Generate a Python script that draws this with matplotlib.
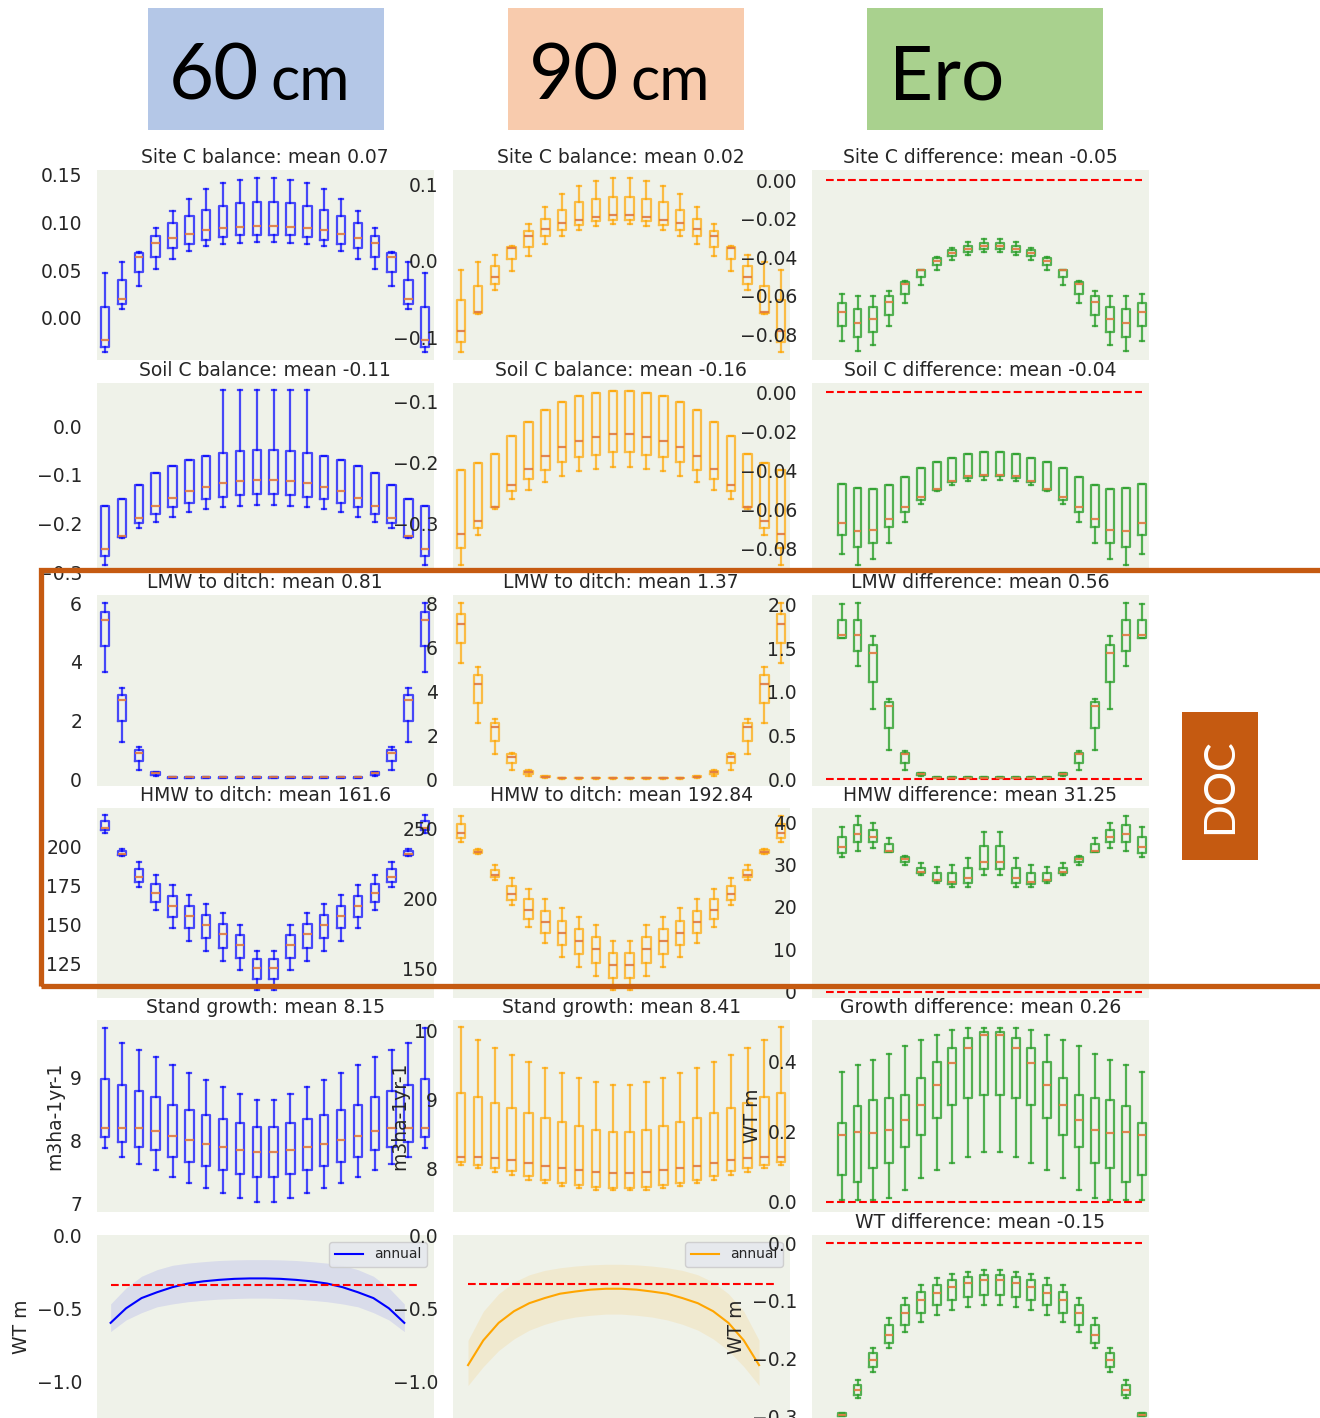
# plot.py - box-plot grid: 60 cm / 90 cm / Ero comparison
import matplotlib
matplotlib.use("Agg")
import matplotlib.pyplot as plt
from matplotlib.patches import Rectangle

# ---- data (20 positions per panel) ----
positions = list(range(1, 21))

# Site C balance, 60 cm
site60_hi = [0.047, 0.059, 0.069, 0.094, 0.112, 0.125, 0.135, 0.141, 0.145, 0.147, 0.147, 0.145, 0.141, 0.135, 0.125, 0.112, 0.094, 0.069, 0.059, 0.047]
site60_q3 = [0.012, 0.040, 0.068, 0.086, 0.099, 0.107, 0.113, 0.117, 0.120, 0.122, 0.122, 0.120, 0.117, 0.113, 0.107, 0.099, 0.086, 0.068, 0.040, 0.012]
site60_med = [-0.023, 0.020, 0.064, 0.079, 0.084, 0.088, 0.092, 0.094, 0.095, 0.096, 0.096, 0.095, 0.094, 0.092, 0.088, 0.084, 0.079, 0.064, 0.020, -0.023]
site60_q1 = [-0.030, 0.015, 0.048, 0.064, 0.073, 0.078, 0.082, 0.085, 0.087, 0.087, 0.087, 0.087, 0.085, 0.082, 0.078, 0.073, 0.064, 0.048, 0.015, -0.030]
site60_lo = [-0.036, 0.009, 0.034, 0.051, 0.062, 0.070, 0.075, 0.077, 0.079, 0.080, 0.080, 0.079, 0.077, 0.075, 0.070, 0.062, 0.051, 0.034, 0.009, -0.036]

# Site C balance, 90 cm
site90_hi = [-0.012, -0.002, 0.008, 0.019, 0.048, 0.071, 0.087, 0.098, 0.105, 0.109, 0.109, 0.105, 0.098, 0.087, 0.071, 0.048, 0.019, 0.008, -0.002, -0.012]
site90_q3 = [-0.052, -0.033, -0.007, 0.018, 0.039, 0.055, 0.067, 0.077, 0.081, 0.084, 0.084, 0.081, 0.077, 0.067, 0.055, 0.039, 0.018, -0.007, -0.033, -0.052]
site90_med = [-0.092, -0.067, -0.021, 0.017, 0.032, 0.042, 0.049, 0.054, 0.057, 0.060, 0.060, 0.057, 0.054, 0.049, 0.042, 0.032, 0.017, -0.021, -0.067, -0.092]
site90_q1 = [-0.106, -0.069, -0.031, 0.002, 0.018, 0.032, 0.041, 0.047, 0.052, 0.054, 0.054, 0.052, 0.047, 0.041, 0.032, 0.018, 0.002, -0.031, -0.069, -0.106]
site90_lo = [-0.119, -0.070, -0.038, -0.013, 0.006, 0.022, 0.033, 0.041, 0.046, 0.048, 0.048, 0.046, 0.041, 0.033, 0.022, 0.006, -0.013, -0.038, -0.070, -0.119]

# Site C difference
sitediff_hi = [-0.059, -0.060, -0.060, -0.0575, -0.0525, -0.0466, -0.0402, -0.0352, -0.0322, -0.0305, -0.0305, -0.0322, -0.0352, -0.0402, -0.0466, -0.0525, -0.0575, -0.060, -0.060, -0.059]
sitediff_q3 = [-0.0637, -0.0672, -0.0658, -0.0603, -0.0532, -0.0466, -0.0407, -0.0364, -0.0343, -0.0326, -0.0326, -0.0343, -0.0364, -0.0407, -0.0466, -0.0532, -0.0603, -0.0658, -0.0672, -0.0637]
sitediff_med = [-0.0684, -0.0741, -0.0722, -0.0634, -0.0540, -0.0468, -0.0419, -0.0378, -0.0357, -0.0343, -0.0343, -0.0357, -0.0378, -0.0419, -0.0468, -0.0540, -0.0634, -0.0722, -0.0741, -0.0684]
sitediff_q1 = [-0.0758, -0.0817, -0.0790, -0.0700, -0.0592, -0.0506, -0.0442, -0.0395, -0.0372, -0.0357, -0.0357, -0.0372, -0.0395, -0.0442, -0.0506, -0.0592, -0.0700, -0.0790, -0.0817, -0.0758]
sitediff_lo = [-0.0835, -0.0890, -0.0857, -0.0758, -0.0637, -0.0544, -0.0468, -0.0416, -0.0388, -0.0374, -0.0374, -0.0388, -0.0416, -0.0468, -0.0544, -0.0637, -0.0758, -0.0857, -0.0890, -0.0835]

# Soil C balance, 60 cm
soil60_hi = [-0.164, -0.150, -0.121, -0.097, -0.082, -0.070, -0.061, 0.073, 0.073, 0.073, 0.073, 0.073, 0.073, -0.061, -0.070, -0.082, -0.097, -0.121, -0.150, -0.164]
soil60_q3 = [-0.164, -0.150, -0.121, -0.097, -0.082, -0.070, -0.061, -0.056, -0.051, -0.049, -0.049, -0.051, -0.056, -0.061, -0.070, -0.082, -0.097, -0.121, -0.150, -0.164]
soil60_med = [-0.252, -0.225, -0.189, -0.165, -0.147, -0.133, -0.125, -0.117, -0.113, -0.111, -0.111, -0.113, -0.117, -0.125, -0.133, -0.147, -0.165, -0.189, -0.225, -0.252]
soil60_q1 = [-0.267, -0.228, -0.200, -0.181, -0.167, -0.158, -0.149, -0.145, -0.142, -0.140, -0.140, -0.142, -0.145, -0.149, -0.158, -0.167, -0.181, -0.200, -0.228, -0.267]
soil60_lo = [-0.285, -0.230, -0.209, -0.196, -0.187, -0.177, -0.171, -0.166, -0.164, -0.162, -0.162, -0.164, -0.166, -0.171, -0.177, -0.187, -0.196, -0.209, -0.230, -0.285]

# Soil C balance, 90 cm
soil90_hi = [-0.211, -0.201, -0.185, -0.156, -0.133, -0.114, -0.100, -0.091, -0.085, -0.082, -0.082, -0.085, -0.091, -0.100, -0.114, -0.133, -0.156, -0.185, -0.201, -0.211]
soil90_q3 = [-0.211, -0.201, -0.185, -0.156, -0.133, -0.114, -0.100, -0.091, -0.085, -0.082, -0.082, -0.085, -0.091, -0.100, -0.114, -0.133, -0.156, -0.185, -0.201, -0.211]
soil90_med = [-0.317, -0.296, -0.272, -0.237, -0.210, -0.189, -0.174, -0.164, -0.158, -0.153, -0.153, -0.158, -0.164, -0.174, -0.189, -0.210, -0.237, -0.272, -0.296, -0.317]
soil90_q1 = [-0.340, -0.306, -0.273, -0.247, -0.226, -0.211, -0.199, -0.191, -0.187, -0.183, -0.183, -0.187, -0.191, -0.199, -0.211, -0.226, -0.247, -0.273, -0.306, -0.340]
soil90_lo = [-0.367, -0.318, -0.276, -0.259, -0.245, -0.232, -0.222, -0.214, -0.210, -0.207, -0.207, -0.210, -0.214, -0.222, -0.232, -0.245, -0.259, -0.276, -0.318, -0.367]

# Soil C difference
soildiff_hi = [-0.0472, -0.0491, -0.0496, -0.0477, -0.0434, -0.0388, -0.0359, -0.0337, -0.0319, -0.0307, -0.0307, -0.0319, -0.0337, -0.0359, -0.0388, -0.0434, -0.0477, -0.0496, -0.0491, -0.0472]
soildiff_q3 = [-0.0472, -0.0491, -0.0496, -0.0477, -0.0434, -0.0388, -0.0359, -0.0337, -0.0319, -0.0307, -0.0307, -0.0319, -0.0337, -0.0359, -0.0388, -0.0434, -0.0477, -0.0496, -0.0491, -0.0472]
soildiff_med = [-0.0668, -0.0710, -0.0704, -0.0649, -0.0589, -0.0537, -0.0496, -0.0453, -0.0431, -0.0422, -0.0422, -0.0431, -0.0453, -0.0496, -0.0537, -0.0589, -0.0649, -0.0704, -0.0710, -0.0668]
soildiff_q1 = [-0.0731, -0.0791, -0.0771, -0.0692, -0.0613, -0.0551, -0.0503, -0.0460, -0.0438, -0.0427, -0.0427, -0.0438, -0.0460, -0.0503, -0.0551, -0.0613, -0.0692, -0.0771, -0.0791, -0.0731]
soildiff_lo = [-0.0829, -0.0885, -0.0855, -0.0771, -0.0664, -0.0571, -0.0507, -0.0477, -0.0457, -0.0448, -0.0448, -0.0457, -0.0477, -0.0507, -0.0571, -0.0664, -0.0771, -0.0855, -0.0885, -0.0829]

# LMW to ditch, 60 cm
lmw60_hi = [6.00, 3.10, 1.11, 0.26, 0.08, 0.08, 0.08, 0.08, 0.08, 0.08, 0.08, 0.08, 0.08, 0.08, 0.08, 0.08, 0.26, 1.11, 3.10, 6.00]
lmw60_q3 = [5.71, 2.87, 0.99, 0.24, 0.07, 0.07, 0.07, 0.07, 0.07, 0.07, 0.07, 0.07, 0.07, 0.07, 0.07, 0.07, 0.24, 0.99, 2.87, 5.71]
lmw60_med = [5.43, 2.69, 0.91, 0.20, 0.06, 0.06, 0.06, 0.06, 0.06, 0.06, 0.06, 0.06, 0.06, 0.06, 0.06, 0.06, 0.20, 0.91, 2.69, 5.43]
lmw60_q1 = [4.54, 1.99, 0.61, 0.16, 0.05, 0.05, 0.05, 0.05, 0.05, 0.05, 0.05, 0.05, 0.05, 0.05, 0.05, 0.05, 0.16, 0.61, 1.99, 4.54]
lmw60_lo = [3.65, 1.27, 0.32, 0.11, 0.04, 0.04, 0.04, 0.04, 0.04, 0.04, 0.04, 0.04, 0.04, 0.04, 0.04, 0.04, 0.11, 0.32, 1.27, 3.65]

# LMW to ditch, 90 cm
lmw90_hi = [8.00, 5.09, 2.73, 1.18, 0.41, 0.16, 0.08, 0.08, 0.08, 0.08, 0.08, 0.08, 0.08, 0.08, 0.16, 0.41, 1.18, 2.73, 5.09, 8.00]
lmw90_q3 = [7.51, 4.74, 2.55, 1.15, 0.38, 0.14, 0.07, 0.07, 0.07, 0.07, 0.07, 0.07, 0.07, 0.07, 0.14, 0.38, 1.15, 2.55, 4.74, 7.51]
lmw90_med = [7.06, 4.33, 2.36, 1.03, 0.33, 0.12, 0.06, 0.06, 0.06, 0.06, 0.06, 0.06, 0.06, 0.06, 0.12, 0.33, 1.03, 2.36, 4.33, 7.06]
lmw90_q1 = [6.18, 3.45, 1.74, 0.75, 0.24, 0.10, 0.05, 0.05, 0.05, 0.05, 0.05, 0.05, 0.05, 0.05, 0.10, 0.24, 0.75, 1.74, 3.45, 6.18]
lmw90_lo = [5.27, 2.57, 1.14, 0.42, 0.16, 0.08, 0.04, 0.04, 0.04, 0.04, 0.04, 0.04, 0.04, 0.04, 0.08, 0.16, 0.42, 1.14, 2.57, 5.27]

# LMW difference
lmwdiff_hi = [2.00, 2.01, 1.64, 0.92, 0.32, 0.075, 0.03, 0.03, 0.03, 0.03, 0.03, 0.03, 0.03, 0.03, 0.075, 0.32, 0.92, 1.64, 2.01, 2.00]
lmwdiff_q3 = [1.82, 1.82, 1.535, 0.88, 0.30, 0.07, 0.025, 0.025, 0.025, 0.025, 0.025, 0.025, 0.025, 0.025, 0.07, 0.30, 0.88, 1.535, 1.82, 1.82]
lmwdiff_med = [1.65, 1.65, 1.44, 0.84, 0.29, 0.06, 0.02, 0.02, 0.02, 0.02, 0.02, 0.02, 0.02, 0.02, 0.06, 0.29, 0.84, 1.44, 1.65, 1.65]
lmwdiff_q1 = [1.62, 1.47, 1.115, 0.59, 0.19, 0.05, 0.015, 0.015, 0.015, 0.015, 0.015, 0.015, 0.015, 0.015, 0.05, 0.19, 0.59, 1.115, 1.47, 1.62]
lmwdiff_lo = [1.62, 1.295, 0.80, 0.34, 0.106, 0.04, 0.01, 0.01, 0.01, 0.01, 0.01, 0.01, 0.01, 0.01, 0.04, 0.106, 0.34, 0.80, 1.295, 1.62]

# HMW to ditch, 60 cm
hmw60_hi = [220.2, 198.9, 190.3, 181.9, 175.4, 169.0, 163.1, 157.3, 149.8, 132.8, 132.8, 149.8, 157.3, 163.1, 169.0, 175.4, 181.9, 190.3, 198.9, 220.2]
hmw60_q3 = [216.4, 197.0, 185.5, 176.1, 168.3, 161.9, 156.0, 150.4, 143.3, 127.6, 127.6, 143.3, 150.4, 156.0, 161.9, 168.3, 176.1, 185.5, 197.0, 216.4]
hmw60_med = [212.0, 195.5, 180.8, 170.3, 162.0, 155.6, 149.8, 143.9, 136.8, 122.2, 122.2, 136.8, 143.9, 149.8, 155.6, 162.0, 170.3, 180.8, 195.5, 212.0]
hmw60_q1 = [210.7, 194.4, 177.4, 164.4, 154.9, 148.0, 141.5, 135.1, 128.6, 114.6, 114.6, 128.6, 135.1, 141.5, 148.0, 154.9, 164.4, 177.4, 194.4, 210.7]
hmw60_lo = [209.0, 193.9, 173.9, 159.0, 148.0, 139.6, 133.1, 126.7, 120.5, 107.7, 107.7, 120.5, 126.7, 133.1, 139.6, 148.0, 159.0, 173.9, 193.9, 209.0]

# HMW to ditch, 90 cm
hmw90_hi = [258.8, 235.2, 223.8, 214.3, 206.4, 199.3, 192.9, 186.9, 180.9, 169.7, 169.7, 180.9, 186.9, 192.9, 199.3, 206.4, 214.3, 223.8, 235.2, 258.8]
hmw90_q3 = [252.9, 234.3, 220.2, 209.0, 199.3, 190.7, 184.0, 177.9, 172.1, 160.9, 160.9, 172.1, 177.9, 184.0, 190.7, 199.3, 209.0, 220.2, 234.3, 252.9]
hmw90_med = [246.4, 233.3, 216.6, 203.1, 191.4, 183.1, 175.0, 169.5, 163.6, 152.6, 152.6, 163.6, 169.5, 175.0, 183.1, 191.4, 203.1, 216.6, 233.3, 246.4]
hmw90_q1 = [242.9, 232.4, 215.0, 198.8, 185.4, 175.0, 166.6, 160.2, 153.6, 143.3, 143.3, 153.6, 160.2, 166.6, 175.0, 185.4, 198.8, 215.0, 232.4, 242.9]
hmw90_lo = [240.2, 231.4, 213.1, 195.0, 179.7, 167.9, 158.3, 151.1, 144.7, 134.5, 134.5, 144.7, 151.1, 158.3, 167.9, 179.7, 195.0, 213.1, 231.4, 240.2]

# HMW difference
hmwdiff_hi = [38.8, 41.5, 39.9, 36.2, 32.0, 30.3, 29.4, 29.8, 31.6, 37.8, 37.8, 31.6, 29.8, 29.4, 30.3, 32.0, 36.2, 39.9, 41.5, 38.8]
hmwdiff_q3 = [36.4, 39.3, 38.2, 34.9, 31.8, 29.2, 28.0, 28.0, 29.1, 34.4, 34.4, 29.1, 28.0, 28.0, 29.2, 31.8, 34.9, 38.2, 39.3, 36.4]
hmwdiff_med = [34.1, 37.2, 36.5, 33.1, 31.3, 28.3, 26.4, 26.0, 26.8, 30.7, 30.7, 26.8, 26.0, 26.4, 28.3, 31.3, 33.1, 36.5, 37.2, 34.1]
hmwdiff_q1 = [32.8, 35.3, 35.3, 33.0, 30.7, 27.9, 26.1, 25.4, 25.7, 28.9, 28.9, 25.7, 25.4, 26.1, 27.9, 30.7, 33.0, 35.3, 35.3, 32.8]
hmwdiff_lo = [31.7, 33.3, 33.9, 33.0, 29.9, 27.6, 25.7, 24.6, 24.6, 27.6, 27.6, 24.6, 24.6, 25.7, 27.6, 29.9, 33.0, 33.9, 33.3, 31.7]

# Stand growth, 60 cm
grow60_hi = [9.77, 9.54, 9.43, 9.31, 9.19, 9.06, 8.95, 8.84, 8.73, 8.64, 8.64, 8.73, 8.84, 8.95, 9.06, 9.19, 9.31, 9.43, 9.54, 9.77]
grow60_q3 = [8.97, 8.87, 8.78, 8.69, 8.56, 8.48, 8.40, 8.34, 8.28, 8.21, 8.21, 8.28, 8.34, 8.40, 8.48, 8.56, 8.69, 8.78, 8.87, 8.97]
grow60_med = [8.20, 8.20, 8.20, 8.15, 8.07, 8.00, 7.94, 7.90, 7.85, 7.82, 7.82, 7.85, 7.90, 7.94, 8.00, 8.07, 8.15, 8.20, 8.20, 8.20]
grow60_q1 = [8.06, 7.98, 7.90, 7.85, 7.74, 7.66, 7.60, 7.54, 7.47, 7.43, 7.43, 7.47, 7.54, 7.60, 7.66, 7.74, 7.85, 7.90, 7.98, 8.06]
grow60_lo = [7.88, 7.74, 7.63, 7.54, 7.43, 7.33, 7.25, 7.17, 7.09, 7.03, 7.03, 7.09, 7.17, 7.25, 7.33, 7.43, 7.54, 7.63, 7.74, 7.88]

# Stand growth, 90 cm
grow90_hi = [10.06, 9.87, 9.75, 9.65, 9.55, 9.46, 9.39, 9.31, 9.26, 9.21, 9.21, 9.26, 9.31, 9.39, 9.46, 9.55, 9.65, 9.75, 9.87, 10.06]
grow90_q3 = [9.09, 9.04, 8.95, 8.88, 8.80, 8.73, 8.67, 8.61, 8.55, 8.53, 8.53, 8.55, 8.61, 8.67, 8.73, 8.80, 8.88, 8.95, 9.04, 9.09]
grow90_med = [8.16, 8.16, 8.15, 8.12, 8.07, 8.03, 8.00, 7.97, 7.94, 7.93, 7.93, 7.94, 7.97, 8.00, 8.03, 8.07, 8.12, 8.15, 8.16, 8.16]
grow90_q1 = [8.09, 8.04, 8.00, 7.96, 7.88, 7.82, 7.78, 7.75, 7.72, 7.71, 7.71, 7.72, 7.75, 7.78, 7.82, 7.88, 7.96, 8.00, 8.04, 8.09]
grow90_lo = [8.04, 8.00, 7.94, 7.90, 7.82, 7.78, 7.74, 7.71, 7.68, 7.68, 7.68, 7.68, 7.71, 7.74, 7.78, 7.82, 7.90, 7.94, 8.00, 8.04]

# Growth difference
growdiff_hi = [0.371, 0.391, 0.406, 0.423, 0.446, 0.463, 0.477, 0.491, 0.497, 0.497, 0.497, 0.497, 0.491, 0.477, 0.463, 0.446, 0.423, 0.406, 0.391, 0.371]
growdiff_q3 = [0.226, 0.274, 0.291, 0.297, 0.306, 0.354, 0.400, 0.440, 0.469, 0.486, 0.486, 0.469, 0.440, 0.400, 0.354, 0.306, 0.297, 0.291, 0.274, 0.226]
growdiff_med = [0.191, 0.200, 0.197, 0.206, 0.234, 0.277, 0.334, 0.397, 0.440, 0.477, 0.477, 0.440, 0.397, 0.334, 0.277, 0.234, 0.206, 0.197, 0.200, 0.191]
growdiff_q1 = [0.077, 0.057, 0.097, 0.111, 0.157, 0.191, 0.240, 0.277, 0.297, 0.306, 0.306, 0.297, 0.277, 0.240, 0.191, 0.157, 0.111, 0.097, 0.057, 0.077]
growdiff_lo = [0.006, 0.006, 0.006, 0.011, 0.034, 0.069, 0.091, 0.111, 0.129, 0.143, 0.143, 0.129, 0.111, 0.091, 0.069, 0.034, 0.011, 0.006, 0.006, 0.006]

# WT difference
wtdiff_hi = [-0.294, -0.237, -0.182, -0.130, -0.095, -0.073, -0.061, -0.054, -0.050, -0.047, -0.047, -0.050, -0.054, -0.061, -0.073, -0.095, -0.130, -0.182, -0.237, -0.294]
wtdiff_q3 = [-0.295, -0.246, -0.190, -0.142, -0.107, -0.085, -0.073, -0.064, -0.059, -0.055, -0.055, -0.059, -0.064, -0.073, -0.085, -0.107, -0.142, -0.190, -0.246, -0.295]
wtdiff_med = [-0.297, -0.254, -0.202, -0.159, -0.121, -0.099, -0.087, -0.076, -0.069, -0.064, -0.064, -0.069, -0.076, -0.087, -0.099, -0.121, -0.159, -0.202, -0.254, -0.297]
wtdiff_q1 = [-0.299, -0.263, -0.215, -0.173, -0.142, -0.121, -0.107, -0.099, -0.093, -0.090, -0.090, -0.093, -0.099, -0.107, -0.121, -0.142, -0.173, -0.215, -0.263, -0.299]
wtdiff_lo = [-0.300, -0.268, -0.223, -0.182, -0.154, -0.137, -0.125, -0.116, -0.111, -0.107, -0.107, -0.111, -0.116, -0.125, -0.137, -0.154, -0.182, -0.223, -0.268, -0.300]

# Water table lines (annual mean with band)
wt_x = list(range(20))
wt60_mean = [-0.60, -0.50, -0.43, -0.39, -0.355, -0.33, -0.315, -0.305, -0.298, -0.295, -0.295, -0.298, -0.305, -0.315, -0.33, -0.355, -0.39, -0.43, -0.50, -0.60]
wt60_upper = [-0.47, -0.36, -0.28, -0.235, -0.205, -0.19, -0.18, -0.172, -0.168, -0.166, -0.166, -0.168, -0.172, -0.18, -0.19, -0.205, -0.235, -0.28, -0.36, -0.47]
wt60_lower = [-0.66, -0.58, -0.53, -0.49, -0.47, -0.455, -0.445, -0.437, -0.433, -0.43, -0.43, -0.433, -0.437, -0.445, -0.455, -0.47, -0.49, -0.53, -0.58, -0.66]
wt90_mean = [-0.89, -0.72, -0.60, -0.52, -0.465, -0.43, -0.40, -0.385, -0.372, -0.366, -0.366, -0.372, -0.385, -0.40, -0.43, -0.465, -0.52, -0.60, -0.72, -0.89]
wt90_upper = [-0.72, -0.52, -0.40, -0.32, -0.27, -0.24, -0.222, -0.21, -0.202, -0.198, -0.198, -0.202, -0.21, -0.222, -0.24, -0.27, -0.32, -0.40, -0.52, -0.72]
wt90_lower = [-1.03, -0.90, -0.79, -0.71, -0.65, -0.61, -0.58, -0.56, -0.548, -0.54, -0.54, -0.548, -0.56, -0.58, -0.61, -0.65, -0.71, -0.79, -0.90, -1.03]
wt60_ref = -0.34
wt90_ref = -0.33

titles = [
    ["Site C balance: mean 0.07", "Site C balance: mean 0.02", "Site C difference: mean -0.05"],
    ["Soil C balance: mean -0.11", "Soil C balance: mean -0.16", "Soil C difference: mean -0.04"],
    ["LMW to ditch: mean 0.81", "LMW to ditch: mean 1.37", "LMW difference: mean 0.56"],
    ["HMW to ditch: mean 161.6", "HMW to ditch: mean 192.84", "HMW difference: mean 31.25"],
    ["Stand growth: mean 8.15", "Stand growth: mean 8.41", "Growth difference: mean 0.26"],
    ["", "", "WT difference: mean -0.15"],
]

# ---- figure ----
W, H = 1320, 1418
TEXT = "#262626"
FACE = "#eff2e9"
MEDIAN = "#e07a40"
FS = 13.5
plt.rcParams["font.family"] = ["DejaVu Sans"]
plt.rcParams["text.color"] = TEXT

fig = plt.figure(figsize=(W / 100, H / 100), dpi=100)

col_left = [96.7, 452.7, 811.7]
row_top = [170, 382.7, 595, 808.3, 1020, 1235]
row_h = [190, 190, 191, 190, 192, 183]


def make_ax(r, c):
    ax = fig.add_axes([col_left[c] / W, 1 - (row_top[r] + row_h[r]) / H,
                       337 / W, row_h[r] / H])
    ax.set_facecolor(FACE)
    for s in ax.spines.values():
        s.set_visible(False)
    ax.set_xticks([])
    ax.tick_params(axis="y", length=0, pad=10.5, labelsize=FS, labelcolor=TEXT)
    if titles[r][c]:
        ax.set_title(titles[r][c], fontsize=FS, color=TEXT, pad=5)
    return ax


def boxes(ax, lo, q1, med, q3, hi, color, alpha):
    stats = [dict(whislo=a, q1=b, med=m, q3=d, whishi=e, fliers=[])
             for a, b, m, d, e in zip(lo, q1, med, q3, hi)]
    line = dict(color=color, alpha=alpha, linewidth=1.6)
    ax.bxp(stats, positions=positions, widths=0.5, showfliers=False,
           boxprops=line, whiskerprops=line, capprops=line,
           medianprops=dict(color=MEDIAN, linewidth=1.6, alpha=0.9),
           manage_ticks=False)


def zero_line(ax):
    ax.hlines(0, 0, 20, colors="red", linestyles="--", linewidth=1.5)


panels = [
    [(site60_lo, site60_q1, site60_med, site60_q3, site60_hi),
     (site90_lo, site90_q1, site90_med, site90_q3, site90_hi),
     (sitediff_lo, sitediff_q1, sitediff_med, sitediff_q3, sitediff_hi)],
    [(soil60_lo, soil60_q1, soil60_med, soil60_q3, soil60_hi),
     (soil90_lo, soil90_q1, soil90_med, soil90_q3, soil90_hi),
     (soildiff_lo, soildiff_q1, soildiff_med, soildiff_q3, soildiff_hi)],
    [(lmw60_lo, lmw60_q1, lmw60_med, lmw60_q3, lmw60_hi),
     (lmw90_lo, lmw90_q1, lmw90_med, lmw90_q3, lmw90_hi),
     (lmwdiff_lo, lmwdiff_q1, lmwdiff_med, lmwdiff_q3, lmwdiff_hi)],
    [(hmw60_lo, hmw60_q1, hmw60_med, hmw60_q3, hmw60_hi),
     (hmw90_lo, hmw90_q1, hmw90_med, hmw90_q3, hmw90_hi),
     (hmwdiff_lo, hmwdiff_q1, hmwdiff_med, hmwdiff_q3, hmwdiff_hi)],
    [(grow60_lo, grow60_q1, grow60_med, grow60_q3, grow60_hi),
     (grow90_lo, grow90_q1, grow90_med, grow90_q3, grow90_hi),
     (growdiff_lo, growdiff_q1, growdiff_med, growdiff_q3, growdiff_hi)],
]

ylims = [
    [(-0.044, 0.155), (-0.130, 0.119), (-0.0935, 0.0052)],
    [(-0.301, 0.089), (-0.380, -0.0688), (-0.0925, 0.0049)],
    [(-0.23, 6.28), (-0.30, 8.38), (-0.077, 2.106)],
    [(102.4, 224.8), (128.6, 264.3), (-1.6, 43.3)],
    [(6.87, 9.9), (7.36, 10.16), (-0.029, 0.52)],
]
yticks = [
    [[0.0, 0.05, 0.10, 0.15], [-0.1, 0.0, 0.1], [-0.08, -0.06, -0.04, -0.02, 0.0]],
    [[-0.3, -0.2, -0.1, 0.0], [-0.3, -0.2, -0.1], [-0.08, -0.06, -0.04, -0.02, 0.0]],
    [[0, 2, 4, 6], [0, 2, 4, 6, 8], [0.0, 0.5, 1.0, 1.5, 2.0]],
    [[125, 150, 175, 200], [150, 200, 250], [0, 10, 20, 30, 40]],
    [[7, 8, 9], [8, 9, 10], [0.0, 0.2, 0.4]],
]
colors = [("blue", 0.7), ("orange", 0.7), ("#2ca02c", 0.8)]

for r in range(5):
    for c in range(3):
        ax = make_ax(r, c)
        boxes(ax, *panels[r][c], colors[c][0], colors[c][1])
        if c == 2:
            zero_line(ax)
            ax.set_xlim(-0.9, 20.42)
        else:
            ax.set_xlim(0.5, 20.5)
        ax.set_yticks(yticks[r][c])
        ax.set_ylim(*ylims[r][c])
        if r == 4:
            ax.set_ylabel("WT m" if c == 2 else "m3ha-1yr-1", fontsize=FS, color=TEXT)

# bottom row: water table lines and WT difference boxes
ax = make_ax(5, 0)
ax.fill_between(wt_x, wt60_lower, wt60_upper, color="blue", alpha=0.09, linewidth=0)
ax.plot(wt_x, wt60_mean, color="blue", linewidth=1.5, label="annual")
ax.hlines(wt60_ref, 0, 20, colors="red", linestyles="--", linewidth=1.5)
ax.set_xlim(-0.9, 20.9)
ax.set_ylim(-1.253, 0.003)
ax.set_yticks([-1.0, -0.5, 0.0])
ax.set_ylabel("WT m", fontsize=FS, color=TEXT)
ax.legend(loc="upper right", fontsize=10, facecolor="#e6e8ee", edgecolor="#cccccc",
          framealpha=0.9)

ax = make_ax(5, 1)
ax.fill_between(wt_x, wt90_lower, wt90_upper, color="orange", alpha=0.11, linewidth=0)
ax.plot(wt_x, wt90_mean, color="orange", linewidth=1.5, label="annual")
ax.hlines(wt90_ref, 0, 20, colors="red", linestyles="--", linewidth=1.5)
ax.set_xlim(-1, 21)
ax.set_ylim(-1.253, 0.003)
ax.set_yticks([-1.0, -0.5, 0.0])
ax.legend(loc="upper right", fontsize=10, facecolor="#e6e8ee", edgecolor="#cccccc",
          framealpha=0.9)

ax = make_ax(5, 2)
boxes(ax, wtdiff_lo, wtdiff_q1, wtdiff_med, wtdiff_q3, wtdiff_hi, "#2ca02c", 0.8)
zero_line(ax)
ax.set_xlim(-0.9, 20.42)
ax.set_ylim(-0.303, 0.014)
ax.set_yticks([-0.3, -0.2, -0.1, 0.0])
ax.set_ylabel("WT m", fontsize=FS, color=TEXT)

# ---- header boxes ----
def fig_rect(x, y, w, h, **kw):
    rect = Rectangle((x / W, 1 - (y + h) / H), w / W, h / H,
                     transform=fig.transFigure, **kw)
    fig.add_artist(rect)
    return rect


HEAD = ["Lato", "DejaVu Sans"]
fig_rect(148, 8, 236, 122, facecolor="#b4c7e7", edgecolor="none")
fig_rect(508, 8, 236, 122, facecolor="#f8cbad", edgecolor="none")
fig_rect(867, 8, 236, 122, facecolor="#a9d18e", edgecolor="none")
fig.text(169 / W, 1 - 100 / H, "60", fontsize=56, family=HEAD, color="black", va="baseline")
fig.text(270 / W, 1 - 100 / H, "cm", fontsize=44, family=HEAD, color="black", va="baseline")
fig.text(529 / W, 1 - 100 / H, "90", fontsize=56, family=HEAD, color="black", va="baseline")
fig.text(630 / W, 1 - 100 / H, "cm", fontsize=44, family=HEAD, color="black", va="baseline")
fig.text(889 / W, 1 - 100 / H, "Ero", fontsize=55, family=HEAD, color="black", va="baseline")

# DOC frame and label
fig_rect(41, 570, 1300, 416, fill=False, edgecolor="#c55a11", linewidth=3.8, zorder=10)
fig_rect(1182, 712, 76, 148, facecolor="#c55a11", edgecolor="none", zorder=10)
fig.text(1220 / W, 1 - 786 / H, "DOC", fontsize=31, family=HEAD, color="white",
         rotation=90, ha="center", va="center", zorder=11)

fig.savefig("out.png", dpi=100)
